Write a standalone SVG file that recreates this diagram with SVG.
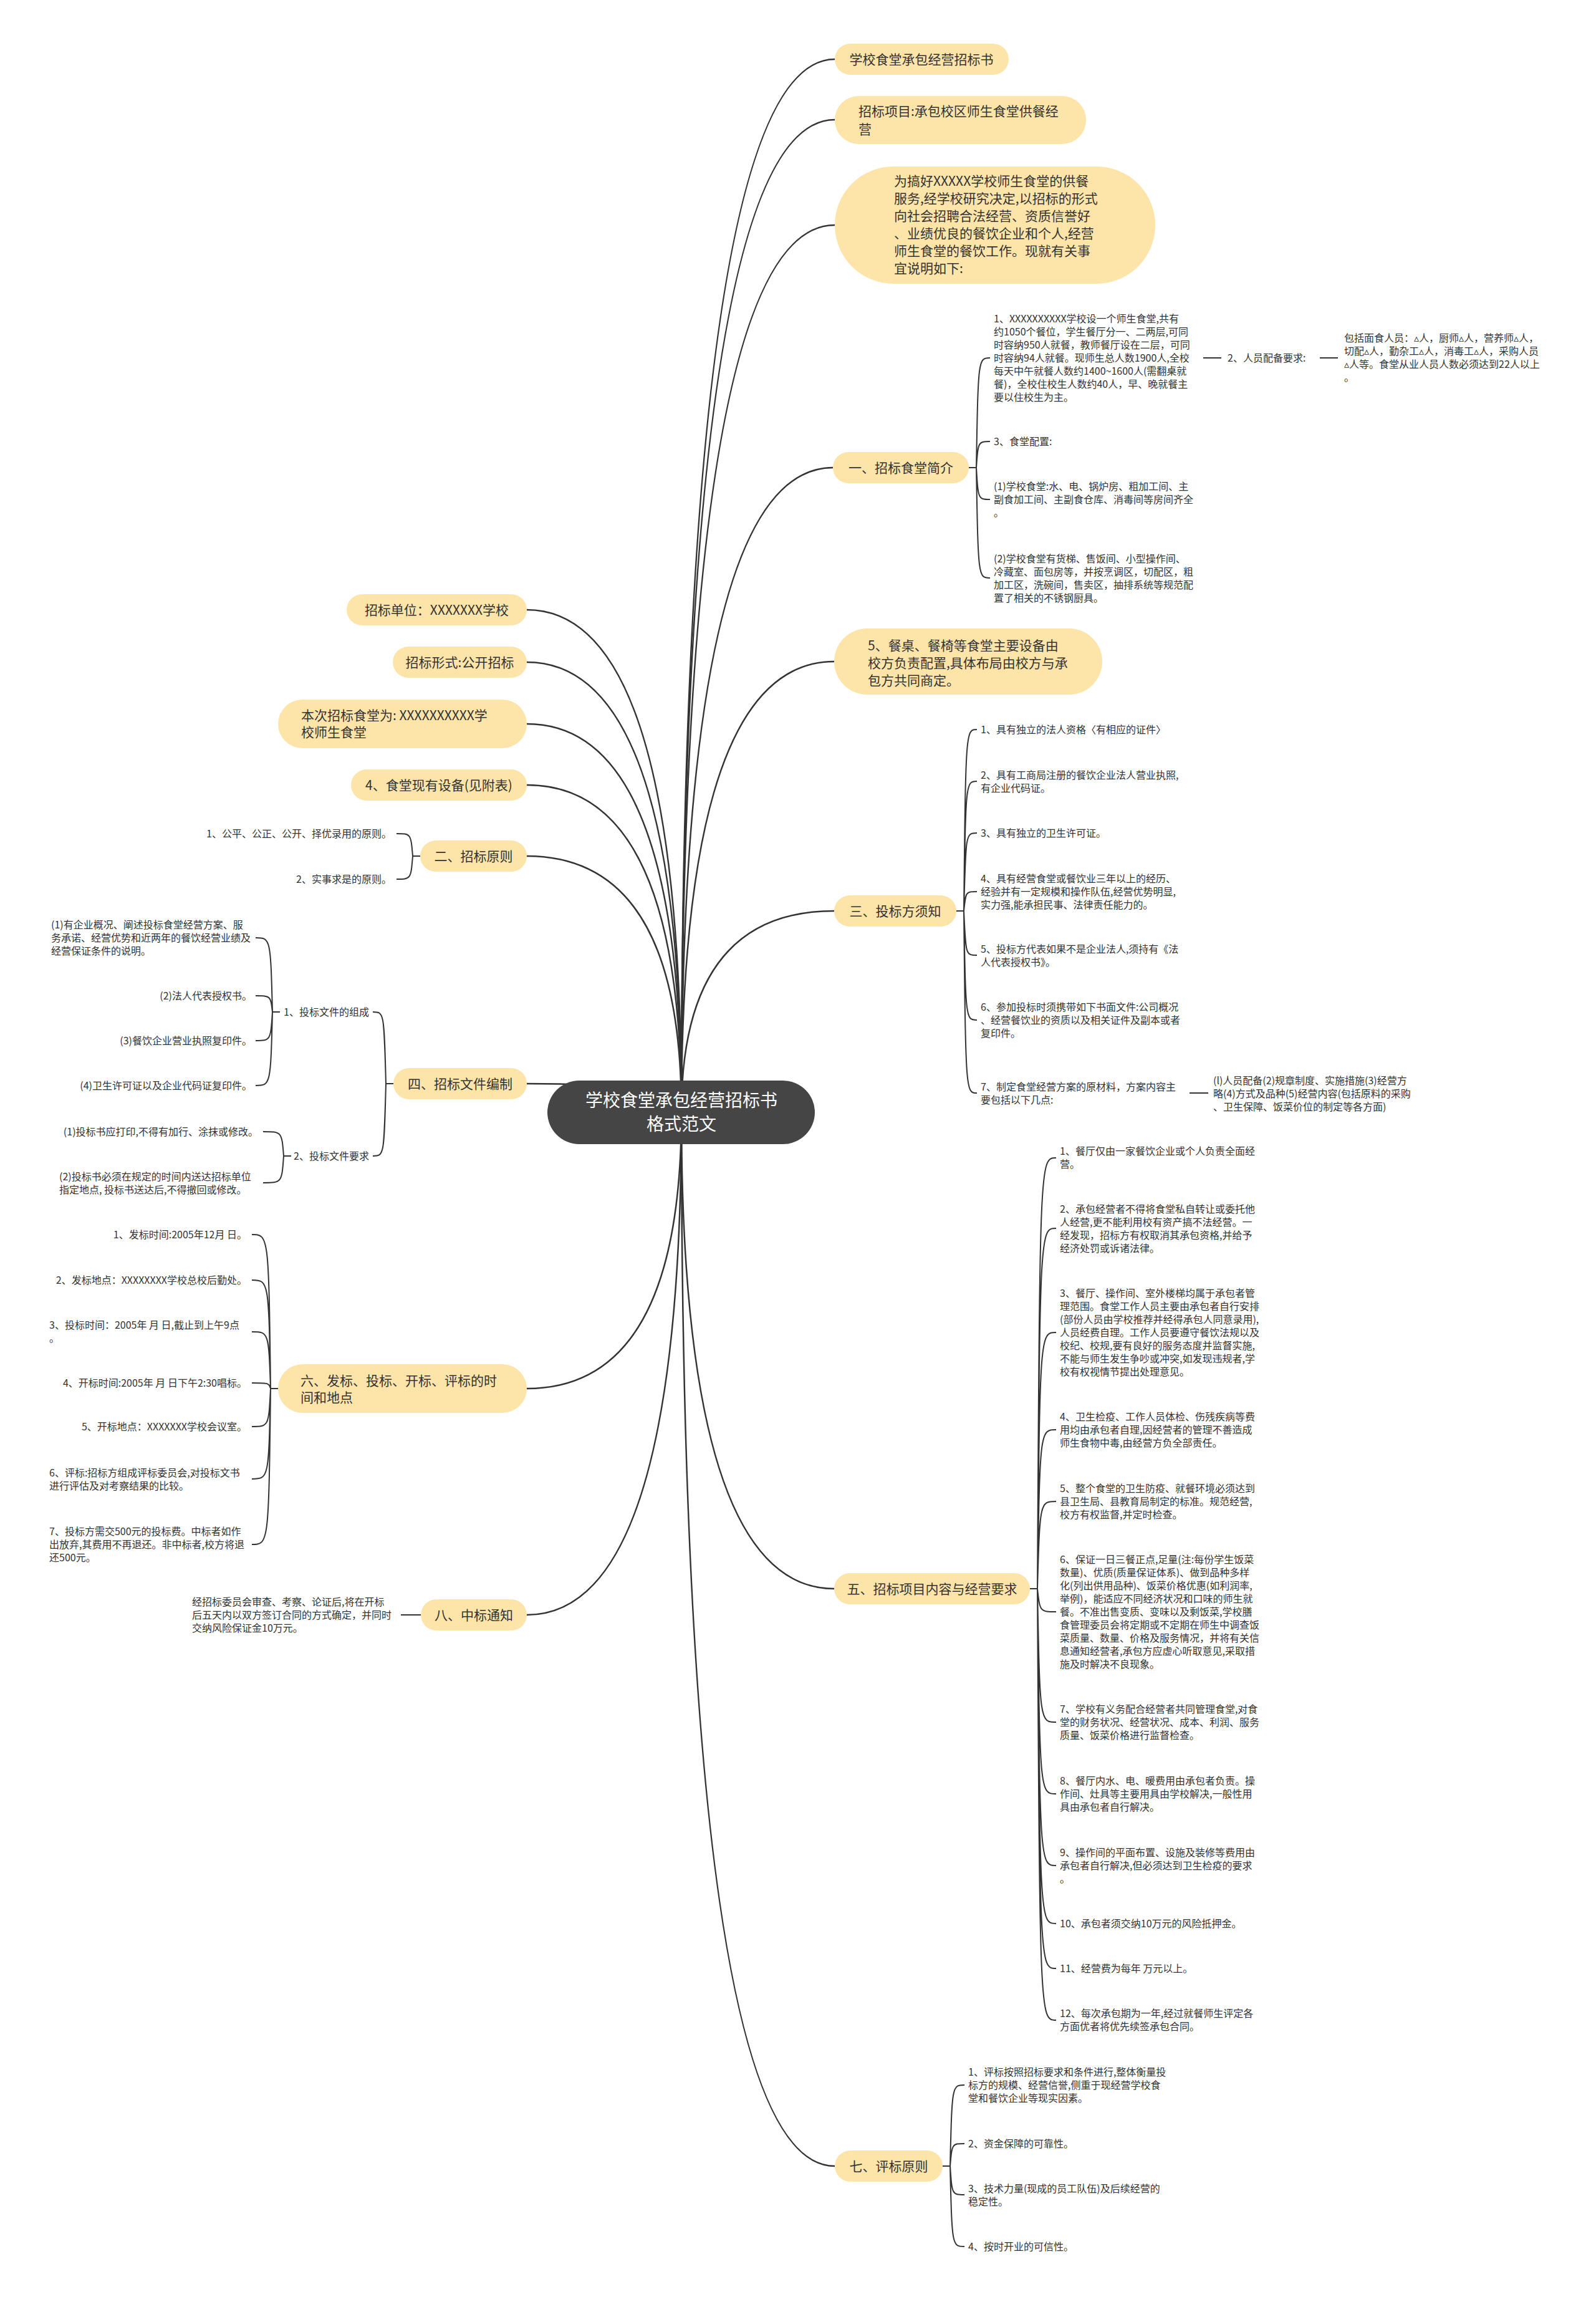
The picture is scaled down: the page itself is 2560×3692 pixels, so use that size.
<svg xmlns="http://www.w3.org/2000/svg" width="2560" height="3692" viewBox="0 0 2560 3692">
<style>
text{font-family:"Noto Sans CJK SC","Liberation Sans",sans-serif;fill:#333}
.n{fill:#FDE4A9}
.t1{font-size:21px}
.tm{text-anchor:middle}
.te{text-anchor:end}
.ts{font-size:16px}
.c1{fill:none;stroke:#333;stroke-width:2.5}
.c2{fill:none;stroke:#333;stroke-width:2}
.root{fill:#454545}
.rt{font-size:28px;fill:#fff;text-anchor:middle}
</style>
<rect width="2560" height="3692" fill="#fff"/>
<g id="connectors">
<path class="c1" d="M1093,1784 Q1093,95 1339,95"/>
<path class="c1" d="M1093,1784 Q1093,192 1339,192"/>
<path class="c1" d="M1093,1784 Q1093,361 1339,361"/>
<path class="c1" d="M1093,1784 Q1093,750 1336,750"/>
<path class="c1" d="M1093,1784 Q1093,1061 1338,1061"/>
<path class="c1" d="M1093,1784 Q1093,1461 1338,1461"/>
<path class="c1" d="M1093,1784 Q1093,2548 1338,2548"/>
<path class="c1" d="M1093,1784 Q1093,3474 1339,3474"/>
<path class="c1" d="M1093,1784 Q1093,978 845,978"/>
<path class="c1" d="M1093,1784 Q1093,1062 845,1062"/>
<path class="c1" d="M1093,1784 Q1093,1161 845,1161"/>
<path class="c1" d="M1093,1784 Q1093,1259 845,1259"/>
<path class="c1" d="M1093,1784 Q1093,1373 845,1373"/>
<path class="c1" d="M1093,1784 Q1093,1738 845,1738"/>
<path class="c1" d="M1093,1784 Q1093,2227 845,2227"/>
<path class="c1" d="M1093,1784 Q1093,2590 845,2590"/>
<path class="c2" d="M1554,750 H1566 M1566,750 C1569,574 1569,574 1588,574 M1566,750 C1569,708 1569,708 1588,708 M1566,750 C1569,801 1569,801 1588,801 M1566,750 C1569,927 1569,927 1588,927"/>
<path class="c2" d="M1930,574 H1959 M2117,574 H2146"/>
<path class="c2" d="M1534,1461 H1546 M1546,1461 C1549,1170 1549,1170 1567,1170 M1546,1461 C1549,1253 1549,1253 1567,1253 M1546,1461 C1549,1336 1549,1336 1567,1336 M1546,1461 C1549,1430 1549,1430 1567,1430 M1546,1461 C1549,1532 1549,1532 1567,1532 M1546,1461 C1549,1636 1549,1636 1567,1636 M1546,1461 C1549,1753 1549,1753 1567,1753"/>
<path class="c2" d="M1908,1753 H1938"/>
<path class="c2" d="M1652,2548 H1664 M1664,2548 C1668,1857 1668,1857 1694,1857 M1664,2548 C1668,1970 1668,1970 1694,1970 M1664,2548 C1668,2137 1668,2137 1694,2137 M1664,2548 C1668,2293 1668,2293 1694,2293 M1664,2548 C1668,2408 1668,2408 1694,2408 M1664,2548 C1668,2585 1668,2585 1694,2585 M1664,2548 C1668,2762 1668,2762 1694,2762 M1664,2548 C1668,2877 1668,2877 1694,2877 M1664,2548 C1668,2992 1668,2992 1694,2992 M1664,2548 C1668,3085 1668,3085 1694,3085 M1664,2548 C1668,3157 1668,3157 1694,3157 M1664,2548 C1668,3240 1668,3240 1694,3240"/>
<path class="c2" d="M1512,3474 H1524 M1524,3474 C1527,3344 1527,3344 1547,3344 M1524,3474 C1527,3438 1527,3438 1547,3438 M1524,3474 C1527,3520 1527,3520 1547,3520 M1524,3474 C1527,3603 1527,3603 1547,3603"/>
<path class="c2" d="M674,1373 H662 M662,1373 C659,1337 659,1337 636,1337 M662,1373 C659,1410 659,1410 636,1410"/>
<path class="c2" d="M631,1738 H619 M619,1738 C616,1623 616,1623 598,1623 M619,1738 C616,1854 616,1854 598,1854"/>
<path class="c2" d="M449,1623 H437 M437,1623 C434,1504 434,1504 410,1504 M437,1623 C434,1597 434,1597 410,1597 M437,1623 C434,1669 434,1669 410,1669 M437,1623 C434,1741 434,1741 410,1741"/>
<path class="c2" d="M467,1854 H455 M455,1854 C452,1815 452,1815 422,1815 M455,1854 C452,1897 452,1897 422,1897"/>
<path class="c2" d="M446,2227 H434 M434,2227 C431,1980 431,1980 404,1980 M434,2227 C431,2053 431,2053 404,2053 M434,2227 C431,2136 431,2136 404,2136 M434,2227 C431,2218 431,2218 404,2218 M434,2227 C431,2288 431,2288 404,2288 M434,2227 C431,2372 431,2372 404,2372 M434,2227 C431,2477 431,2477 404,2477"/>
<path class="c2" d="M643,2590 H675"/>
</g>
<g id="node-root">
<rect class="root" x="878" y="1733" width="429" height="102" rx="51"/>
<text class="rt" x="1093" y="1775">学校食堂承包经营招标书</text>
<text class="rt" x="1093" y="1813">格式范文</text>
</g>
<g id="node-r1">
<rect class="n" x="1339" y="70" width="279" height="50" rx="25"/>
<text class="t1 tm" x="1478" y="102.5">学校食堂承包经营招标书</text>
</g>
<g id="node-r2">
<rect class="n" x="1339" y="154" width="403" height="77" rx="38"/>
<text class="t1" x="1377" y="185.5">招标项目:承包校区师生食堂供餐经</text>
<text class="t1" x="1377" y="214.5">营</text>
</g>
<g id="node-r3">
<rect class="n" x="1339" y="267" width="514" height="188" rx="94"/>
<text class="t1" x="1434" y="297.5">为搞好XXXXX学校师生食堂的供餐</text>
<text class="t1" x="1434" y="325.5">服务,经学校研究决定,以招标的形式</text>
<text class="t1" x="1434" y="353.5">向社会招聘合法经营、资质信誉好</text>
<text class="t1" x="1434" y="381.5">、业绩优良的餐饮企业和个人,经营</text>
<text class="t1" x="1434" y="409.5">师生食堂的餐饮工作。现就有关事</text>
<text class="t1" x="1434" y="437.5">宜说明如下:</text>
</g>
<g id="node-s1">
<rect class="n" x="1336" y="725" width="218" height="50" rx="25"/>
<text class="t1 tm" x="1445" y="757.5">一、招标食堂简介</text>
</g>
<g id="node-s1-c1">
<text class="ts" x="1594" y="517">1、XXXXXXXXXX学校设一个师生食堂,共有</text>
<text class="ts" x="1594" y="538">约1050个餐位，学生餐厅分一、二两层,可同</text>
<text class="ts" x="1594" y="559">时容纳950人就餐，教师餐厅设在二层，可同</text>
<text class="ts" x="1594" y="580">时容纳94人就餐。现师生总人数1900人,全校</text>
<text class="ts" x="1594" y="601">每天中午就餐人数约1400~1600人(需翻桌就</text>
<text class="ts" x="1594" y="622">餐)，全校住校生人数约40人，早、晚就餐主</text>
<text class="ts" x="1594" y="643">要以住校生为主。</text>
</g>
<g id="node-s1-c1-a">
<text class="ts" x="1969" y="580">2、人员配备要求:</text>
</g>
<g id="node-s1-c1-b">
<text class="ts" x="2156" y="548">包括面食人员：▵人，厨师▵人，营养师▵人，</text>
<text class="ts" x="2156" y="569">切配▵人，勤杂工▵人，消毒工▵人，采购人员</text>
<text class="ts" x="2156" y="590">▵人等。食堂从业人员人数必须达到22人以上</text>
<text class="ts" x="2156" y="611">。</text>
</g>
<g id="node-s1-c2">
<text class="ts" x="1594" y="714">3、食堂配置:</text>
</g>
<g id="node-s1-c3">
<text class="ts" x="1594" y="786">(1)学校食堂:水、电、锅炉房、粗加工间、主</text>
<text class="ts" x="1594" y="807">副食加工间、主副食仓库、消毒间等房间齐全</text>
<text class="ts" x="1594" y="828">。</text>
</g>
<g id="node-s1-c4">
<text class="ts" x="1594" y="902">(2)学校食堂有货梯、售饭间、小型操作间、</text>
<text class="ts" x="1594" y="923">冷藏室、面包房等，并按烹调区，切配区，粗</text>
<text class="ts" x="1594" y="944">加工区，洗碗间，售卖区，抽排系统等规范配</text>
<text class="ts" x="1594" y="965">置了相关的不锈钢厨具。</text>
</g>
<g id="node-r5">
<rect class="n" x="1338" y="1008" width="430" height="106" rx="53"/>
<text class="t1" x="1392" y="1042.5">5、餐桌、餐椅等食堂主要设备由</text>
<text class="t1" x="1392" y="1070.5">校方负责配置,具体布局由校方与承</text>
<text class="t1" x="1392" y="1098.5">包方共同商定。</text>
</g>
<g id="node-s3">
<rect class="n" x="1338" y="1436" width="196" height="50" rx="25"/>
<text class="t1 tm" x="1436" y="1468.5">三、投标方须知</text>
</g>
<g id="node-s3-children">
<text class="ts" x="1573" y="1176">1、具有独立的法人资格〈有相应的证件〉</text>
<text class="ts" x="1573" y="1249">2、具有工商局注册的餐饮企业法人营业执照,</text>
<text class="ts" x="1573" y="1270">有企业代码证。</text>
<text class="ts" x="1573" y="1342">3、具有独立的卫生许可证。</text>
<text class="ts" x="1573" y="1415">4、具有经营食堂或餐饮业三年以上的经历、</text>
<text class="ts" x="1573" y="1436">经验并有一定规模和操作队伍,经营优势明显,</text>
<text class="ts" x="1573" y="1457">实力强,能承担民事、法律责任能力的。</text>
<text class="ts" x="1573" y="1528">5、投标方代表如果不是企业法人,须持有《法</text>
<text class="ts" x="1573" y="1549">人代表授权书》。</text>
<text class="ts" x="1573" y="1621">6、参加投标时须携带如下书面文件:公司概况</text>
<text class="ts" x="1573" y="1642">、经营餐饮业的资质以及相关证件及副本或者</text>
<text class="ts" x="1573" y="1663">复印件。</text>
<text class="ts" x="1573" y="1749">7、制定食堂经营方案的原材料，方案内容主</text>
<text class="ts" x="1573" y="1770">要包括以下几点:</text>
</g>
<g id="node-s3-c7-a">
<text class="ts" x="1946" y="1739">(l)人员配备(2)规章制度、实施措施(3)经营方</text>
<text class="ts" x="1946" y="1760">略(4)方式及品种(5)经营内容(包括原料的采购</text>
<text class="ts" x="1946" y="1781">、卫生保障、饭菜价位的制定等各方面)</text>
</g>
<g id="node-s5">
<rect class="n" x="1338" y="2523" width="314" height="50" rx="25"/>
<text class="t1 tm" x="1495" y="2555.5">五、招标项目内容与经营要求</text>
</g>
<g id="node-s5-children">
<text class="ts" x="1700" y="1852">1、餐厅仅由一家餐饮企业或个人负责全面经</text>
<text class="ts" x="1700" y="1873">营。</text>
<text class="ts" x="1700" y="1945">2、承包经营者不得将食堂私自转让或委托他</text>
<text class="ts" x="1700" y="1966">人经营,更不能利用校有资产搞不法经营。一</text>
<text class="ts" x="1700" y="1987">经发现，招标方有权取消其承包资格,并给予</text>
<text class="ts" x="1700" y="2008">经济处罚或诉诸法律。</text>
<text class="ts" x="1700" y="2080">3、餐厅、操作间、室外楼梯均属于承包者管</text>
<text class="ts" x="1700" y="2101">理范围。食堂工作人员主要由承包者自行安排</text>
<text class="ts" x="1700" y="2122">(部份人员由学校推荐并经得承包人同意录用),</text>
<text class="ts" x="1700" y="2143">人员经费自理。工作人员要遵守餐饮法规以及</text>
<text class="ts" x="1700" y="2164">校纪、校规,要有良好的服务态度并监督实施,</text>
<text class="ts" x="1700" y="2185">不能与师生发生争吵或冲突,如发现违规者,学</text>
<text class="ts" x="1700" y="2206">校有权视情节提出处理意见。</text>
<text class="ts" x="1700" y="2278">4、卫生检疫、工作人员体检、伤残疾病等费</text>
<text class="ts" x="1700" y="2299">用均由承包者自理,因经营者的管理不善造成</text>
<text class="ts" x="1700" y="2320">师生食物中毒,由经营方负全部责任。</text>
<text class="ts" x="1700" y="2393">5、整个食堂的卫生防疫、就餐环境必须达到</text>
<text class="ts" x="1700" y="2414">县卫生局、县教育局制定的标准。规范经营,</text>
<text class="ts" x="1700" y="2435">校方有权监督,并定时检查。</text>
<text class="ts" x="1700" y="2507">6、保证一日三餐正点,足量(注:每份学生饭菜</text>
<text class="ts" x="1700" y="2528">数量)、优质(质量保证体系)、做到品种多样</text>
<text class="ts" x="1700" y="2549">化(列出供用品种)、饭菜价格优惠(如利润率,</text>
<text class="ts" x="1700" y="2570">举例)，能适应不同经济状况和口味的师生就</text>
<text class="ts" x="1700" y="2591">餐。不准出售变质、变味以及剩饭菜,学校膳</text>
<text class="ts" x="1700" y="2612">食管理委员会将定期或不定期在师生中调查饭</text>
<text class="ts" x="1700" y="2633">菜质量、数量、价格及服务情况，并将有关信</text>
<text class="ts" x="1700" y="2654">息通知经营者,承包方应虚心听取意见,采取措</text>
<text class="ts" x="1700" y="2675">施及时解决不良现象。</text>
<text class="ts" x="1700" y="2747">7、学校有义务配合经营者共同管理食堂,对食</text>
<text class="ts" x="1700" y="2768">堂的财务状况、经营状况、成本、利润、服务</text>
<text class="ts" x="1700" y="2789">质量、饭菜价格进行监督检查。</text>
<text class="ts" x="1700" y="2862">8、餐厅内水、电、暖费用由承包者负责。操</text>
<text class="ts" x="1700" y="2883">作间、灶具等主要用具由学校解决,一般性用</text>
<text class="ts" x="1700" y="2904">具由承包者自行解决。</text>
<text class="ts" x="1700" y="2977">9、操作间的平面布置、设施及装修等费用由</text>
<text class="ts" x="1700" y="2998">承包者自行解决,但必须达到卫生检疫的要求</text>
<text class="ts" x="1700" y="3019">。</text>
<text class="ts" x="1700" y="3091">10、承包者须交纳10万元的风险抵押金。</text>
<text class="ts" x="1700" y="3163">11、经营费为每年 万元以上。</text>
<text class="ts" x="1700" y="3235">12、每次承包期为一年,经过就餐师生评定各</text>
<text class="ts" x="1700" y="3256">方面优者将优先续签承包合同。</text>
</g>
<g id="node-s7">
<rect class="n" x="1339" y="3449" width="173" height="50" rx="25"/>
<text class="t1 tm" x="1425.5" y="3481.5">七、评标原则</text>
</g>
<g id="node-s7-children">
<text class="ts" x="1553" y="3329">1、评标按照招标要求和条件进行,整体衡量投</text>
<text class="ts" x="1553" y="3350">标方的规模、经营信誉,侧重于现经营学校食</text>
<text class="ts" x="1553" y="3371">堂和餐饮企业等现实因素。</text>
<text class="ts" x="1553" y="3444">2、资金保障的可靠性。</text>
<text class="ts" x="1553" y="3516">3、技术力量(现成的员工队伍)及后续经营的</text>
<text class="ts" x="1553" y="3537">稳定性。</text>
<text class="ts" x="1553" y="3609">4、按时开业的可信性。</text>
</g>
<g id="node-l1">
<rect class="n" x="556" y="953" width="289" height="50" rx="25"/>
<text class="t1 tm" x="700.5" y="985.5">招标单位：XXXXXXX学校</text>
</g>
<g id="node-l2">
<rect class="n" x="630" y="1037" width="215" height="50" rx="25"/>
<text class="t1 tm" x="737.5" y="1069.5">招标形式:公开招标</text>
</g>
<g id="node-l3">
<rect class="n" x="446" y="1122" width="399" height="78" rx="39"/>
<text class="t1" x="483" y="1154.5">本次招标食堂为: XXXXXXXXXX学</text>
<text class="t1" x="483" y="1181.5">校师生食堂</text>
</g>
<g id="node-l4">
<rect class="n" x="563" y="1234" width="282" height="50" rx="25"/>
<text class="t1 tm" x="704" y="1266.5">4、食堂现有设备(见附表)</text>
</g>
<g id="node-s2">
<rect class="n" x="674" y="1348" width="171" height="50" rx="25"/>
<text class="t1 tm" x="759.5" y="1380.5">二、招标原则</text>
</g>
<g id="node-s2-children">
<text class="ts te" x="628" y="1343">1、公平、公正、公开、择优录用的原则。</text>
<text class="ts te" x="628" y="1416">2、实事求是的原则。</text>
</g>
<g id="node-s4">
<rect class="n" x="631" y="1713" width="214" height="50" rx="25"/>
<text class="t1 tm" x="738" y="1745.5">四、招标文件编制</text>
</g>
<g id="node-s4-c1">
<text class="ts te" x="592" y="1629">1、投标文件的组成</text>
</g>
<g id="node-s4-c1-children">
<text class="ts" x="82" y="1489">(1)有企业概况、阐述投标食堂经营方案、服</text>
<text class="ts" x="82" y="1510">务承诺、经营优势和近两年的餐饮经营业绩及</text>
<text class="ts" x="82" y="1531">经营保证条件的说明。</text>
<text class="ts te" x="404" y="1603">(2)法人代表授权书。</text>
<text class="ts te" x="404" y="1675">(3)餐饮企业营业执照复印件。</text>
<text class="ts te" x="404" y="1747">(4)卫生许可证以及企业代码证复印件。</text>
</g>
<g id="node-s4-c2">
<text class="ts te" x="592" y="1860">2、投标文件要求</text>
</g>
<g id="node-s4-c2-children">
<text class="ts te" x="414" y="1821">(1)投标书应打印,不得有加行、涂抹或修改。</text>
<text class="ts" x="95" y="1893">(2)投标书必须在规定的时间内送达招标单位</text>
<text class="ts" x="95" y="1914">指定地点, 投标书送达后,不得撤回或修改。</text>
</g>
<g id="node-s6">
<rect class="n" x="446" y="2188" width="399" height="78" rx="39"/>
<text class="t1" x="482" y="2221.5">六、发标、投标、开标、评标的时</text>
<text class="t1" x="482" y="2248.5">间和地点</text>
</g>
<g id="node-s6-children">
<text class="ts te" x="396" y="1986">1、发标时间:2005年12月 日。</text>
<text class="ts te" x="396" y="2059">2、发标地点：XXXXXXXX学校总校后勤处。</text>
<text class="ts" x="79" y="2131">3、投标时间：2005年 月 日,截止到上午9点</text>
<text class="ts" x="79" y="2152">。</text>
<text class="ts te" x="396" y="2224">4、开标时间:2005年 月 日下午2:30唱标。</text>
<text class="ts te" x="396" y="2294">5、开标地点：XXXXXXX学校会议室。</text>
<text class="ts" x="79" y="2368">6、评标:招标方组成评标委员会,对投标文书</text>
<text class="ts" x="79" y="2389">进行评估及对考察结果的比较。</text>
<text class="ts" x="79" y="2462">7、投标方需交500元的投标费。中标者如作</text>
<text class="ts" x="79" y="2483">出放弃,其费用不再退还。非中标者,校方将退</text>
<text class="ts" x="79" y="2504">还500元。</text>
</g>
<g id="node-s8">
<rect class="n" x="675" y="2565" width="170" height="50" rx="25"/>
<text class="t1 tm" x="760" y="2597.5">八、中标通知</text>
</g>
<g id="node-s8-child">
<text class="ts" x="308" y="2575">经招标委员会审查、考察、论证后,将在开标</text>
<text class="ts" x="308" y="2596">后五天内以双方签订合同的方式确定，并同时</text>
<text class="ts" x="308" y="2617">交纳风险保证金10万元。</text>
</g>
</svg>
